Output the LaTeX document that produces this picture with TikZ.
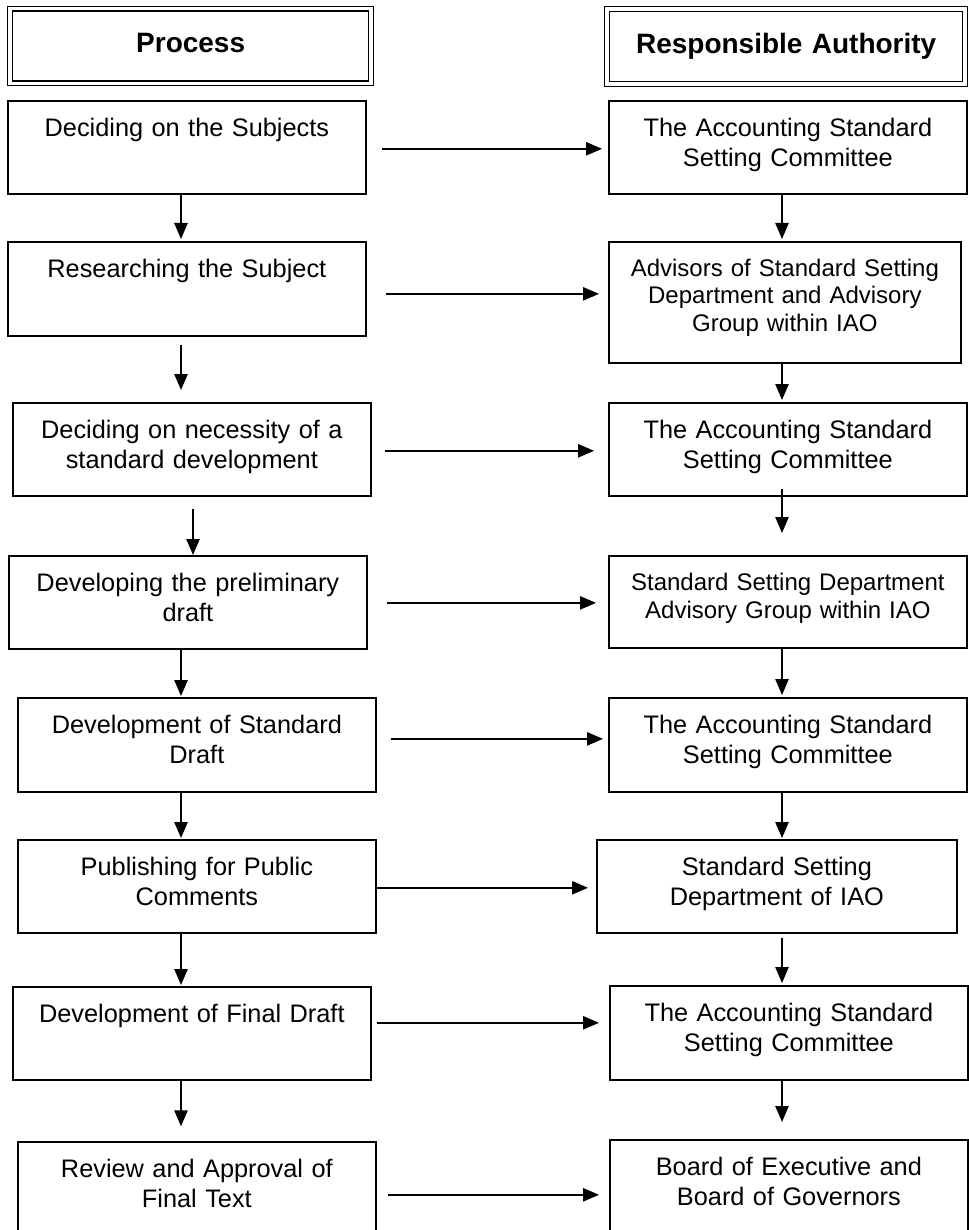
\documentclass[tikz,border=0pt]{standalone}
\usepackage{fontspec}
\setmainfont{Liberation Sans}
\usetikzlibrary{arrows.meta}

\tikzset{
    stepbox/.style={draw, line width=1.3pt, anchor=north west, inner sep=0pt,
        text width=268.5pt, align=center, text height=26.7pt, text depth=43pt,
        font=\fontsize{19pt}{22.5pt}\selectfont},
    smallbox/.style={stepbox, text height=26pt, font=\fontsize{18pt}{20.6pt}\selectfont},
    headbox/.style={draw, double, double distance=2.6pt, line width=1pt,
        anchor=north west, inner sep=0pt, align=center, minimum height=56pt,
        text height=15pt, text depth=5pt, font=\fontsize{21pt}{25pt}\selectfont\bfseries},
    flow/.style={line width=1.1pt, -{Triangle[length=12pt,width=10pt]}}
}

\begin{document}
\begin{tikzpicture}[x=0.75pt, y=-0.75pt]
    \useasboundingbox (0,0) rectangle (968,1230);
    \node [headbox, text width=270.75pt] (hp) at (9.5,8) {Process};
    \node [headbox, text width=268.5pt] (ha) at (606.5,8.5) {Responsible Authority};

    \node [stepbox] (L1) at (7,100) {Deciding on the Subjects};
    \node [stepbox, text depth=43.8pt] (L2) at (7,241) {Researching the Subject};
    \node [stepbox] (L3) at (12,402) {Deciding on necessity of a\\standard development};
    \node [stepbox] (L4) at (8,555) {Developing the preliminary\\draft};
    \node [stepbox, text depth=43.8pt] (L5) at (17,697) {Development of Standard\\Draft};
    \node [stepbox] (L6) at (17,839) {Publishing for Public\\Comments};
    \node [stepbox] (L7) at (12,986) {Development of Final Draft};
    \node [stepbox, text depth=62.5pt] (L8) at (17,1141) {Review and Approval of\\Final Text};

    \node [stepbox] (R1) at (608,100) {The Accounting Standard\\Setting Committee};
    \node [smallbox, text width=264pt, text depth=64.75pt] (R2) at (608,241) {Advisors of Standard Setting\\Department and Advisory\\Group within IAO};
    \node [stepbox] (R3) at (608,402) {The Accounting Standard\\Setting Committee};
    \node [smallbox] (R4) at (608,555) {Standard Setting Department\\Advisory Group within IAO};
    \node [stepbox, text depth=43.8pt] (R5) at (608,697) {The Accounting Standard\\Setting Committee};
    \node [stepbox, text width=270pt] (R6) at (596,839) {Standard Setting\\Department of IAO};
    \node [stepbox, text depth=43.8pt] (R7) at (609,985) {The Accounting Standard\\Setting Committee};
    \node [stepbox, text depth=64pt] (R8) at (609,1139) {Board of Executive and\\Board of Governors};

    \coordinate (lx) at (181,0);
    \coordinate (mx) at (193,0);
    \coordinate (rx) at (782,0);

    \draw [flow, shorten >=1.5pt] (L1.south -| lx) -- (L2.north -| lx);
    \draw [flow, shorten <=6pt, shorten >=9pt] (L2.south -| lx) -- (L3.north -| lx);
    \draw [flow, shorten <=9pt] (L3.south -| mx) -- (L4.north -| mx);
    \draw [flow, shorten >=0.75pt] (L4.south -| lx) -- (L5.north -| lx);
    \draw [flow, shorten >=0.75pt] (L5.south -| lx) -- (L6.north -| lx);
    \draw [flow, shorten >=0.75pt] (L6.south -| lx) -- (L7.north -| lx);
    \draw [flow, shorten >=11pt] (L7.south -| lx) -- (L8.north -| lx);

    \draw [flow, shorten >=1.5pt] (R1.south -| rx) -- (R2.north -| rx);
    \draw [flow, shorten >=1.5pt] (R2.south -| rx) -- (R3.north -| rx);
    \draw [flow, shorten <=-6pt, shorten >=16.5pt] (R3.south -| rx) -- (R4.north -| rx);
    \draw [flow, shorten >=1.5pt] (R4.south -| rx) -- (R5.north -| rx);
    \draw [flow, shorten >=0.75pt] (R5.south -| rx) -- (R6.north -| rx);
    \draw [flow, shorten <=3pt, shorten >=1.5pt] (R6.south -| rx) -- (R7.north -| rx);
    \draw [flow, shorten >=12.75pt] (R7.south -| rx) -- (R8.north -| rx);

    \foreach \i/\dy/\a/\b in {1/-1.1pt/11.25pt/4.5pt, 2/-3.75pt/14.25pt/6.75pt,
        3/-1.1pt/9.75pt/10.5pt, 4/-0.4pt/14.25pt/9pt, 5/4.5pt/10.5pt/3.75pt,
        6/-1.1pt/0pt/6pt, 7/7.9pt/3.75pt/7.5pt, 8/4.9pt/8.25pt/7.5pt}
        \draw [flow, shorten <=\a, shorten >=\b] ([yshift=\dy]L\i.east) coordinate (s\i) -- (s\i -| R\i.west);
\end{tikzpicture}
\end{document}
